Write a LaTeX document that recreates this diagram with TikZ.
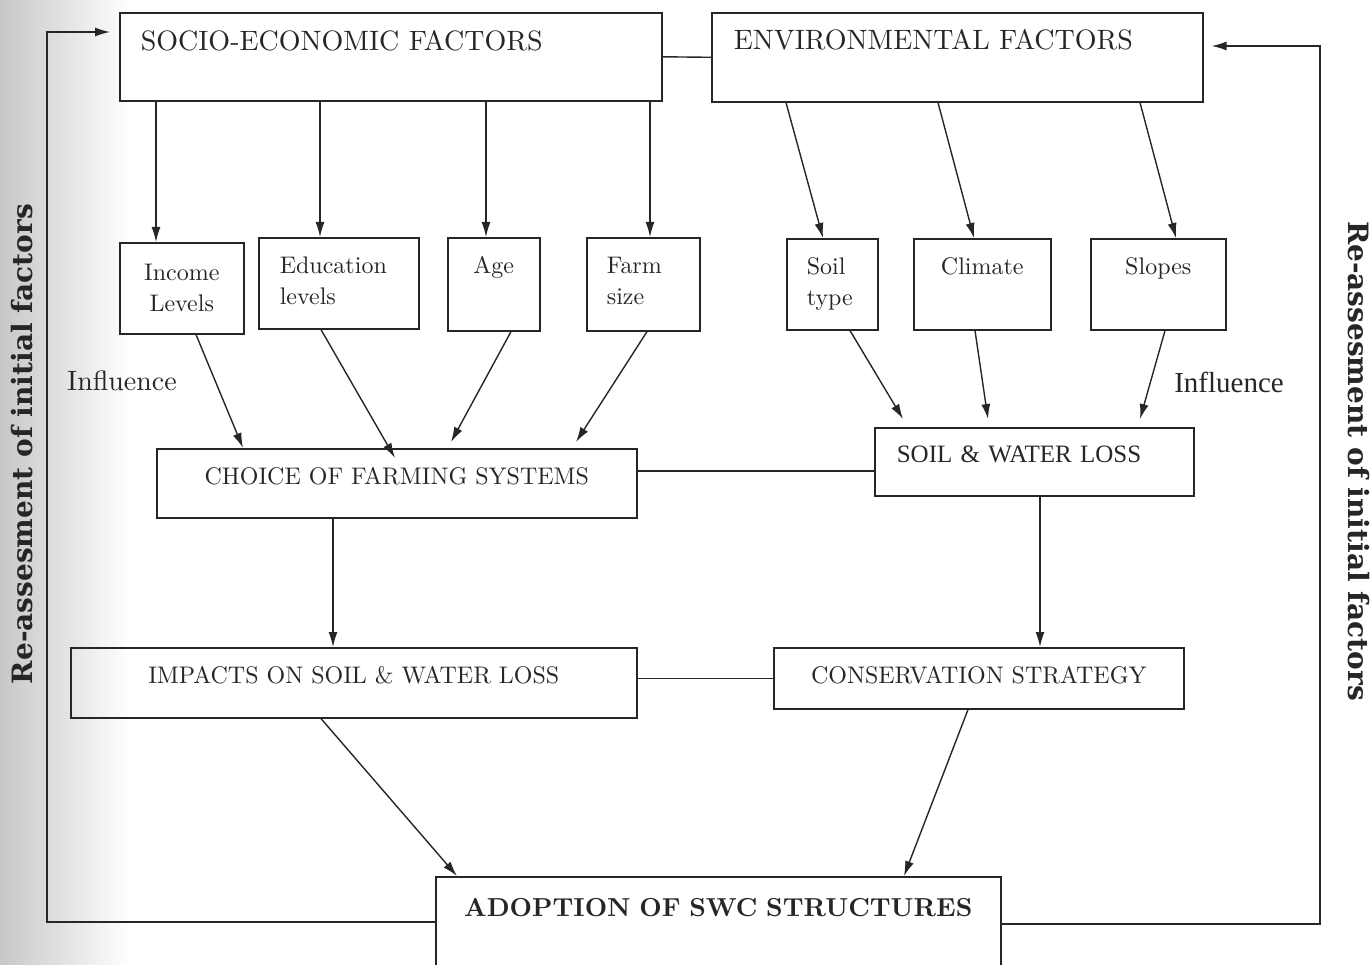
\documentclass[tikz,border=0pt]{standalone}
\usepackage{fontspec}
\setmainfont{lmroman10-regular.otf}[BoldFont=lmroman10-bold.otf]
\newfontfamily\timesfont{Liberation Serif}
\newfontfamily\slabfont{DejaVu Serif}
\usepackage{xcolor}
\usepackage{tikz}
\usetikzlibrary{arrows.meta}
\usetikzlibrary{calc}
\definecolor{ink}{HTML}{262626}
\tikzset{
    box/.style={draw, line width=1.6pt, inner sep=0pt, anchor=north west},
    cbox/.style={box, align=center},
    lbox/.style={box, align=left},
    arr/.style={line width=1.4pt, -{Latex[length=15pt,width=9pt]}},
    bigtxt/.style={font=\fontsize{28}{34}\selectfont},
    smalltxt/.style={font=\fontsize{24}{31}\selectfont},
    midtxt/.style={font=\fontsize{24}{29}\selectfont},
    sidetxt/.style={font=\slabfont\bfseries\fontsize{28}{32}\selectfont, anchor=base}}

\begin{document}
\begin{tikzpicture}[x=1pt,y=-1pt,color=ink]
\useasboundingbox (0,0) rectangle (1372,965);
\shade[left color=black!22, right color=white] (0,0) rectangle (130,965);

%Factor boxes
\node[lbox, bigtxt, inner xsep=21pt, text width=500pt, text height=38pt, text depth=50pt] (socio) at (119,12) {SOCIO-ECONOMIC FACTORS};
\node[lbox, bigtxt, inner xsep=22pt, text width=447pt, text height=37pt, text depth=52pt] (env) at (711,12) {ENVIRONMENTAL FACTORS};

%Second row
\node[cbox, smalltxt, text width=124pt, text height=38pt, text depth=53pt] (income) at (119,242) {Income\\Levels};
\node[lbox, smalltxt, inner xsep=21pt, text width=118pt, text height=36pt, text depth=55pt] (educ) at (258,237) {Education\\levels};
\node[cbox, smalltxt, text width=92pt, text height=36pt, text depth=57pt] (age) at (447,237) {Age};
\node[lbox, smalltxt, inner xsep=20pt, text width=73pt, text height=36pt, text depth=57pt] (farm) at (586,237) {Farm\\size};
\node[lbox, smalltxt, inner xsep=20pt, text width=51pt, text height=36pt, text depth=55pt] (soil) at (786,238) {Soil\\type};
\node[cbox, smalltxt, text width=137pt, text height=36pt, text depth=55pt] (climate) at (913,238) {Climate};
\node[cbox, smalltxt, text width=135pt, text height=36pt, text depth=55pt] (slopes) at (1090,238) {Slopes};

%Middle and bottom
\node[cbox, midtxt, text width=480pt, text height=36pt, text depth=33pt] (choice) at (156,448) {CHOICE OF FARMING SYSTEMS};
\node[lbox, font=\timesfont\fontsize{25}{30}\selectfont, inner xsep=22pt, text width=275pt, text height=35pt, text depth=33pt] (swl) at (874,427) {SOIL \& WATER LOSS};
\node[cbox, midtxt, text width=566pt, text height=36pt, text depth=34pt] (impacts) at (70,647) {IMPACTS ON SOIL \& WATER LOSS};
\node[cbox, midtxt, text width=410pt, text height=36pt, text depth=25pt] (cons) at (773,647) {CONSERVATION STRATEGY};
\node[cbox, font=\bfseries\fontsize{26}{31}\selectfont, text width=565pt, text height=40pt, text depth=75pt] (adopt) at (435,876) {ADOPTION OF SWC STRUCTURES};

%Labels
\node[font=\fontsize{28}{32}\selectfont, anchor=base] (inflL) at (122,390) {Influence};
\node[font=\timesfont\fontsize{29}{32}\selectfont, anchor=base] (inflR) at (1229,392) {Influence};
\node[sidetxt, rotate=90] (reL) at (32,444) {Re-assesment of initial factors};
\node[sidetxt, rotate=-90] (reR) at (1348,461) {Re-assesment of initial factors};

%Arrows from the factors
\draw [arr] (socio.south -| 156,0) -- (income.north -| 156,0);
\draw [arr] (socio.south -| 320,0) -- (educ.north -| 320,0);
\draw [arr] (socio.south -| 486,0) -- (age.north -| 486,0);
\draw [arr] (socio.south -| 650,0) -- (farm.north -| 650,0);
\draw [arr] (env.south -| 786,0) -- (soil.north -| 823,0);
\draw [arr] (env.south -| 938,0) -- (climate.north -| 974,0);
\draw [arr] (env.south -| 1140,0) -- (slopes.north -| 1176,0);
\draw [line width=1.4pt] (socio.east) -- (env.west);

%Influence arrows
\draw [arr] (income.south -| 196,0) -- (choice.north -| 243,0);
\draw [arr] (educ.south -| 321,0) -- ($(choice.north -| 395,0)+(0,10)$);
\draw [arr] (age.south -| 511,0) -- ($(choice.north -| 451,0)+(0,-6)$);
\draw [arr] (farm.south -| 647,0) -- ($(choice.north -| 576,0)+(0,-6)$);
\draw [arr] (soil.south -| 850,0) -- ($(swl.north -| 903,0)+(0,-8)$);
\draw [arr] (climate.south -| 975,0) -- ($(swl.north -| 988,0)+(0,-8)$);
\draw [arr] (slopes.south -| 1165,0) -- ($(swl.north -| 1140,0)+(0,-8)$);
\draw [line width=1.4pt] (choice.east |- 0,471) -- (swl.west |- 0,471);

%Down to adoption
\draw [arr] (choice.south -| 333,0) -- (impacts.north -| 333,0);
\draw [arr] (swl.south -| 1040,0) -- (cons.north -| 1040,0);
\draw [line width=1.4pt] (impacts.east |- cons.west) -- (cons.west);
\draw [arr] (impacts.south -| 321,0) -- (adopt.north -| 457,0);
\draw [arr] (cons.south -| 968,0) -- (adopt.north -| 904,0);

%Feedback loops
\coordinate (lowL) at (47,922);
\coordinate (topL) at (47,32);
\coordinate (lowR) at (1320,924);
\coordinate (topR) at (1320,46);
\draw [arr, shorten >=9pt] (adopt.west |- lowL) -- (lowL) -- (topL) -- (socio.west |- topL);
\draw [arr, shorten >=8pt] (adopt.east |- lowR) -- (lowR) -- (topR) -- (env.east |- topR);

\end{tikzpicture}
\end{document}
